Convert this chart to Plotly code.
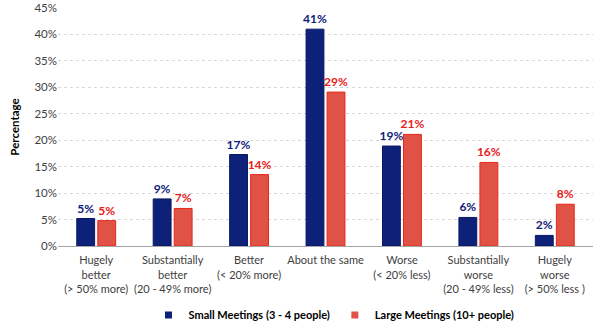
import plotly.graph_objects as go

categories = [
    "Hugely<br>better<br>(> 50% more)",
    "Substantially<br>better<br>(20 - 49% more)",
    "Better<br>(< 20% more)",
    "About the same",
    "Worse<br>(< 20% less)",
    "Substantially<br>worse<br>(20 - 49% less)",
    "Hugely<br>worse<br>(> 50% less )",
]
small_vals = [5.2, 8.9, 17.3, 41.0, 18.9, 5.4, 2.0]
large_vals = [4.8, 7.1, 13.5, 29.1, 21.1, 15.8, 7.9]
small_labels = ["5%", "9%", "17%", "41%", "19%", "6%", "2%"]
large_labels = ["5%", "7%", "14%", "29%", "21%", "16%", "8%"]
yticks = [0, 5, 10, 15, 20, 25, 30, 35, 40, 45]
series_names = ["Small Meetings (3 - 4 people)", "Large Meetings (10+ people)"]

FONT = "Lato"
navy = "#0D2179"
red = "#E05245"

fig = go.Figure()
fig.add_trace(go.Bar(
    x=categories, y=small_vals, name=series_names[0], showlegend=False,
    marker=dict(color=navy, line=dict(color="#0A1A66", width=1)),
    text=small_labels, textposition="outside", cliponaxis=False, constraintext="none",
    textfont=dict(family=FONT, size=12, color="#0D2179", weight="bold"),
))
fig.add_trace(go.Bar(
    x=categories, y=large_vals, name=series_names[1], showlegend=False,
    marker=dict(color=red, line=dict(color="#E8261A", width=1)),
    text=large_labels, textposition="outside", cliponaxis=False, constraintext="none",
    textfont=dict(family=FONT, size=12, color="#E8201A", weight="bold"),
))
# legend entries (small square swatches)
for nm, col in zip(series_names, [navy, red]):
    fig.add_trace(go.Scatter(x=[None], y=[None], mode="markers", name=nm,
                             marker=dict(symbol="square", size=7, color=col)))

fig.update_layout(
    width=600, height=329,
    margin=dict(l=58, r=7, t=8, b=83, autoexpand=False),
    paper_bgcolor="white", plot_bgcolor="white",
    barmode="group", bargap=0.45, bargroupgap=0.15,
    font=dict(family=FONT, size=11, color="#404040"),
    showlegend=True,
    legend=dict(orientation="h", x=334 / 600, xanchor="center", xref="container",
                y=1 - 315 / 329, yanchor="middle", yref="container",
                font=dict(family=FONT, size=11, color="#000000", weight="bold"),
                itemwidth=30, traceorder="normal", tracegroupgap=0),
)
fig.update_xaxes(showgrid=False, showline=True, linecolor="#A6A6A6", linewidth=1,
                 tickfont=dict(family=FONT, size=11, color="#404040"), ticks="",
                 automargin=False, ticklabelstandoff=4)
fig.update_yaxes(range=[0, 45], tickvals=yticks, ticktext=[f"{v}%" for v in yticks],
                 showgrid=True, gridcolor="#D9D9D9", griddash="dot", gridwidth=1,
                 zeroline=False, showline=False, automargin=False,
                 tickfont=dict(family=FONT, size=11.5, color="#404040"),
                 title=dict(text="<b>Percentage</b>", font=dict(family=FONT, size=11.5, color="#000000"), standoff=12))

fig.write_html("out.html")
